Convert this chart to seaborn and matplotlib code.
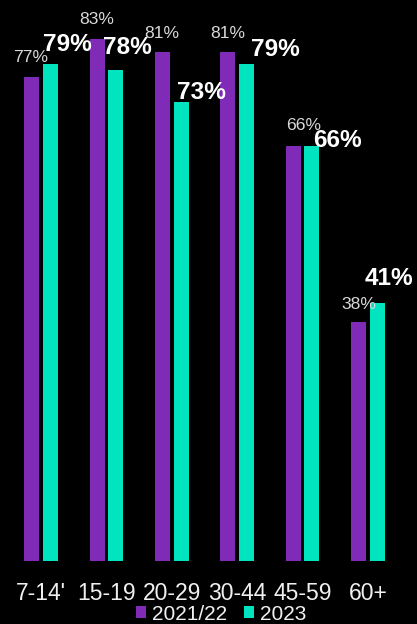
import matplotlib
matplotlib.use("Agg")
import matplotlib.pyplot as plt
import seaborn as sns
import pandas as pd
from matplotlib.patches import Patch

categories = ["7-14'", "15-19", "20-29", "30-44", "45-59", "60+"]
series_names = ["2021/22", "2023"]
values_2021 = [77, 83, 81, 81, 66, 38]
values_2023 = [79, 78, 73, 79, 66, 41]

colors = ["#7F2BB7", "#00E5BF"]

# label offsets (pixels) relative to bar top-centre: (dx, dy above top to baseline)
off_2021 = [(-1.5, 15), (-0.5, 15), (-0.5, 14), (-0.5, 14), (10.5, 16), (0, 13)]
off_2023 = [(17.5, 13), (12, 16), (20, 3), (28.5, 8), (25.5, -1), (11.5, 18)]

df = pd.DataFrame({
    "cat": categories * 2,
    "series": [series_names[0]] * len(categories) + [series_names[1]] * len(categories),
    "val": values_2021 + values_2023,
})

sns.set_theme(style="white")
plt.rcParams["font.family"] = ["Liberation Sans", "DejaVu Sans"]

W, H = 417, 624
fig = plt.figure(figsize=(W / 100, H / 100), dpi=100, facecolor="black")
ax = fig.add_axes([8.3 / W, 63 / H, 392.4 / W, 561 / H])
ax.set_facecolor("black")

sns.barplot(data=df, x="cat", y="val", hue="series", order=categories,
            hue_order=series_names, palette=colors, width=0.566, gap=0.19,
            saturation=1, ax=ax, legend=False, linewidth=0)

ax.set_xlim(-0.5, 5.5)
ax.set_ylim(0, 561 / 6.29)
ax.set_xlabel("")
ax.set_ylabel("")
ax.set_yticks([])
for s in ax.spines.values():
    s.set_visible(False)
ax.tick_params(axis="x", length=0, pad=15, labelsize=16.5, labelcolor="#F0F0F0")

px = 0.72
for bar, v, (dx, dy) in zip(ax.containers[0], values_2021, off_2021):
    x = bar.get_x() + bar.get_width() / 2
    ax.annotate(f"{v}%", xy=(x, bar.get_height()), xytext=(dx * px, dy * px),
                textcoords="offset points", ha="center", va="baseline",
                fontsize=12.6, color="#D9D9D9")
for bar, v, (dx, dy) in zip(ax.containers[1], values_2023, off_2023):
    x = bar.get_x() + bar.get_width() / 2
    ax.annotate(f"{v}%", xy=(x, bar.get_height()), xytext=(dx * px, dy * px),
                textcoords="offset points", ha="center", va="baseline",
                fontsize=17.6, fontweight="bold", color="white")

handles = [Patch(facecolor=c, edgecolor="none") for c in colors]
leg = fig.legend(handles, series_names, loc="center", bbox_to_anchor=(221 / W, 1 - 614 / H),
                 ncol=2, frameon=False, fontsize=15, handlelength=0.48, handleheight=0.48,
                 handletextpad=0.29, columnspacing=0.82, borderpad=0, borderaxespad=0)
for t in leg.get_texts():
    t.set_color("#F0F0F0")

fig.savefig("out.png", dpi=100, facecolor="black")
